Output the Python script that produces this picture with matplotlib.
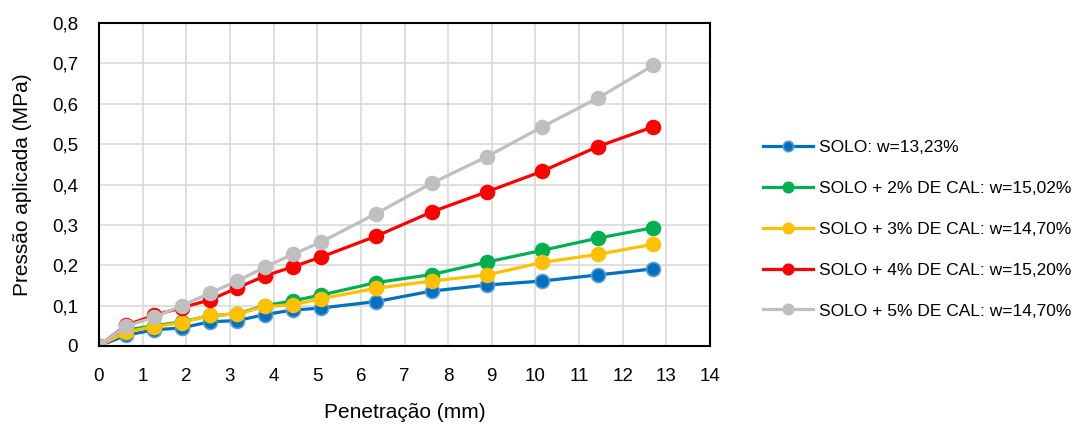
import matplotlib
matplotlib.use("Agg")
import matplotlib.pyplot as plt
from matplotlib.ticker import FuncFormatter

plt.rcParams['font.family'] = ['Liberation Sans', 'DejaVu Sans']

penetracao = [0, 0.63, 1.27, 1.90, 2.54, 3.17, 3.81, 4.44, 5.08, 6.35, 7.62, 8.89, 10.16, 11.43, 12.70]

solo = [0, 0.027, 0.040, 0.045, 0.060, 0.063, 0.078, 0.089, 0.094, 0.110, 0.136, 0.151, 0.161, 0.176, 0.191]
cal2 = [0, 0.040, 0.050, 0.060, 0.075, 0.080, 0.100, 0.112, 0.126, 0.157, 0.177, 0.208, 0.237, 0.267, 0.293]
cal3 = [0, 0.035, 0.048, 0.058, 0.076, 0.079, 0.098, 0.102, 0.117, 0.143, 0.161, 0.176, 0.207, 0.227, 0.252]
cal4 = [0, 0.052, 0.076, 0.095, 0.114, 0.144, 0.174, 0.196, 0.220, 0.272, 0.332, 0.382, 0.433, 0.494, 0.543]
cal5 = [0, 0.050, 0.071, 0.100, 0.131, 0.161, 0.196, 0.227, 0.257, 0.328, 0.403, 0.469, 0.543, 0.614, 0.695]

labels = ["SOLO: w=13,23%",
          "SOLO + 2% DE CAL: w=15,02%",
          "SOLO + 3% DE CAL: w=14,70%",
          "SOLO + 4% DE CAL: w=15,20%",
          "SOLO + 5% DE CAL: w=14,70%"]
colors = ["#0070C0", "#00B050", "#FFC000", "#FF0000", "#BFBFBF"]
edges = ["#5B9BD5", "#00B050", "#FFC000", "#FF0000", "#BFBFBF"]

fig = plt.figure(figsize=(10.83, 4.28), dpi=100)
ax = fig.add_axes([99 / 1083, 1 - 346 / 428, 611 / 1083, 323 / 428])

for y, c, e, lab in zip([solo, cal2, cal3, cal4, cal5], colors, edges, labels):
    ax.plot(penetracao, y, color=c, lw=2.3, marker='o', markersize=10,
            markerfacecolor=c, markeredgecolor=e, markeredgewidth=1.2, label=lab)

ax.set_xlim(0, 14)
ax.set_ylim(0, 0.8)
ax.set_xticks(range(0, 15))
ax.set_yticks([i / 10 for i in range(9)])
ax.yaxis.set_major_formatter(FuncFormatter(lambda v, p: ('%g' % round(v, 1)).replace('.', ',')))
ax.grid(True, color='#D9D9D9', lw=1.2)
ax.set_axisbelow(True)
for s in ax.spines.values():
    s.set_color('black')
    s.set_linewidth(1.5)
ax.tick_params(length=0, labelsize=13.5)
ax.tick_params(axis='x', pad=16)
ax.tick_params(axis='y', pad=15)
ax.set_xlabel('Penetração (mm)', fontsize=15, va='center')
ax.set_ylabel('Pressão aplicada (MPa)', fontsize=15, va='center')
ax.xaxis.set_label_coords(0.5, (346 - 412) / 323)
ax.yaxis.set_label_coords((23 - 99) / 611, 0.5)

leg = fig.legend(loc='upper left', bbox_to_anchor=(763 / 1083, 1 - 140 / 428), frameon=False,
                 fontsize=12.5, labelspacing=1.48, handlelength=2.9, handletextpad=0.3,
                 borderpad=0, borderaxespad=0, markerscale=0.75)

fig.savefig('out.png', dpi=100)
